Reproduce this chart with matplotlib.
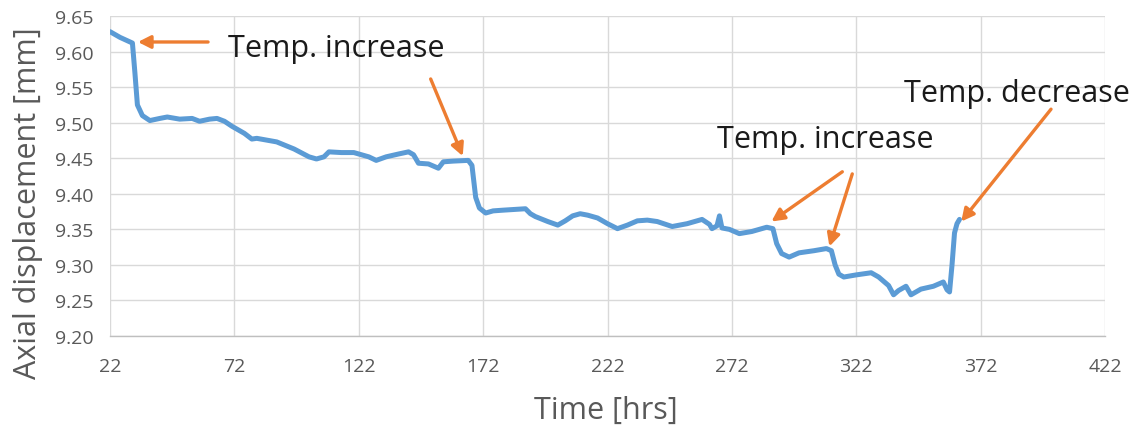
import matplotlib
matplotlib.use("Agg")
import matplotlib.pyplot as plt

plt.rcParams['font.family'] = ['Open Sans', 'DejaVu Sans']

# Displacement record (time in hours, axial displacement in mm)
time_hrs = [22, 26, 31, 32, 33, 35, 38, 42, 45, 50, 55, 58, 62, 65, 68, 71, 76, 79, 81,
            89, 96, 102, 105, 108, 110, 115, 120, 126, 129, 133, 138, 142, 144, 146, 150,
            154, 156, 160, 166, 167.5, 169, 170.5, 173, 176, 180, 189, 191, 193, 198, 202,
            205, 208, 211, 214, 218, 222, 226, 230, 234, 238, 242, 248, 254, 260, 263, 264,
            266, 267, 268, 271, 275, 280, 286, 288.5, 290, 292, 295, 299, 305, 310, 312,
            313.5, 315, 317, 322, 328, 331, 335, 337, 339, 342, 344, 348, 353, 357, 358.5,
            359.5, 360.5, 361.5, 362.5, 363.5]
displacement_mm = [9.628, 9.620, 9.612, 9.570, 9.525, 9.510, 9.503, 9.506, 9.508, 9.505,
                   9.506, 9.502, 9.505, 9.506, 9.502, 9.495, 9.485, 9.477, 9.478, 9.473,
                   9.463, 9.452, 9.449, 9.452, 9.459, 9.458, 9.458, 9.452, 9.447, 9.452,
                   9.456, 9.459, 9.455, 9.443, 9.442, 9.436, 9.445, 9.446, 9.447, 9.440,
                   9.395, 9.380, 9.373, 9.376, 9.377, 9.379, 9.372, 9.368, 9.361, 9.356,
                   9.362, 9.369, 9.372, 9.370, 9.366, 9.358, 9.351, 9.356, 9.362, 9.363,
                   9.361, 9.354, 9.358, 9.364, 9.357, 9.351, 9.355, 9.369, 9.352, 9.350,
                   9.344, 9.347, 9.353, 9.351, 9.330, 9.316, 9.311, 9.317, 9.320, 9.323,
                   9.320, 9.300, 9.287, 9.283, 9.286, 9.289, 9.283, 9.271, 9.258, 9.264,
                   9.270, 9.258, 9.266, 9.270, 9.276, 9.265, 9.262, 9.300, 9.345, 9.358,
                   9.364]

x_ticks = [22, 72, 122, 172, 222, 272, 322, 372, 422]
y_ticks = [9.20, 9.25, 9.30, 9.35, 9.40, 9.45, 9.50, 9.55, 9.60, 9.65]

# Annotation labels with their anchor (time, displacement)
note_labels = ["Temp. increase", "Temp. increase", "Temp. decrease"]
note_positions = [(69.4, 9.594), (266.2, 9.466), (341.3, 9.531)]

# Arrows: (tail, head) in data coordinates
arrows = [
    ((61.4, 9.6135), (33.2, 9.6135)),
    ((150.9, 9.5615), (163.8, 9.453)),
    ((316.4, 9.431), (287.9, 9.361)),
    ((320.4, 9.428), (311.2, 9.326)),
    ((400.3, 9.519), (364.2, 9.361)),
]

line_color = "#5B9BD5"
arrow_color = "#ED7D31"
grid_color = "#D9D9D9"
text_gray = "#595959"

fig = plt.figure(figsize=(11.38, 4.31), dpi=100)
ax = fig.add_axes([0.0967, 0.218, 0.8743, 0.7425])

ax.plot(time_hrs, displacement_mm, color=line_color, lw=3.6, solid_joinstyle="round",
        solid_capstyle="round", zorder=3)

ax.set_xlim(22, 422)
ax.set_ylim(9.20, 9.65)
ax.set_xticks(x_ticks)
ax.set_xticklabels([str(v) for v in x_ticks])
ax.set_yticks(y_ticks)
ax.set_yticklabels([f"{v:.2f}" for v in y_ticks])
ax.grid(True, color=grid_color, lw=1.0)
ax.set_axisbelow(True)
for side in ("top", "right", "left"):
    ax.spines[side].set_visible(False)
ax.spines["bottom"].set_color("#BFBFBF")
ax.spines["bottom"].set_linewidth(1.0)
ax.tick_params(axis="both", length=0, colors=text_gray, labelsize=14)
ax.tick_params(axis="x", pad=15)
ax.tick_params(axis="y", pad=12)

fig.text(606 / 1138, 1 - 411 / 431, "Time [hrs]", fontsize=22, color=text_gray,
         ha="center", va="center")
fig.text(28 / 1138, 1 - 203 / 431, "Axial displacement [mm]", fontsize=22,
         color=text_gray, ha="center", va="center", rotation=90)

for label, pos in zip(note_labels, note_positions):
    ax.text(pos[0], pos[1], label, fontsize=22, color="#1a1a1a", ha="left",
            va="baseline", zorder=5)

for tail, head in arrows:
    ax.annotate("", xy=head, xytext=tail,
                arrowprops=dict(arrowstyle="-|>,head_length=0.75,head_width=0.38",
                                color=arrow_color, lw=2.4, shrinkA=0, shrinkB=0),
                zorder=6)

fig.savefig("out.png", dpi=100)
